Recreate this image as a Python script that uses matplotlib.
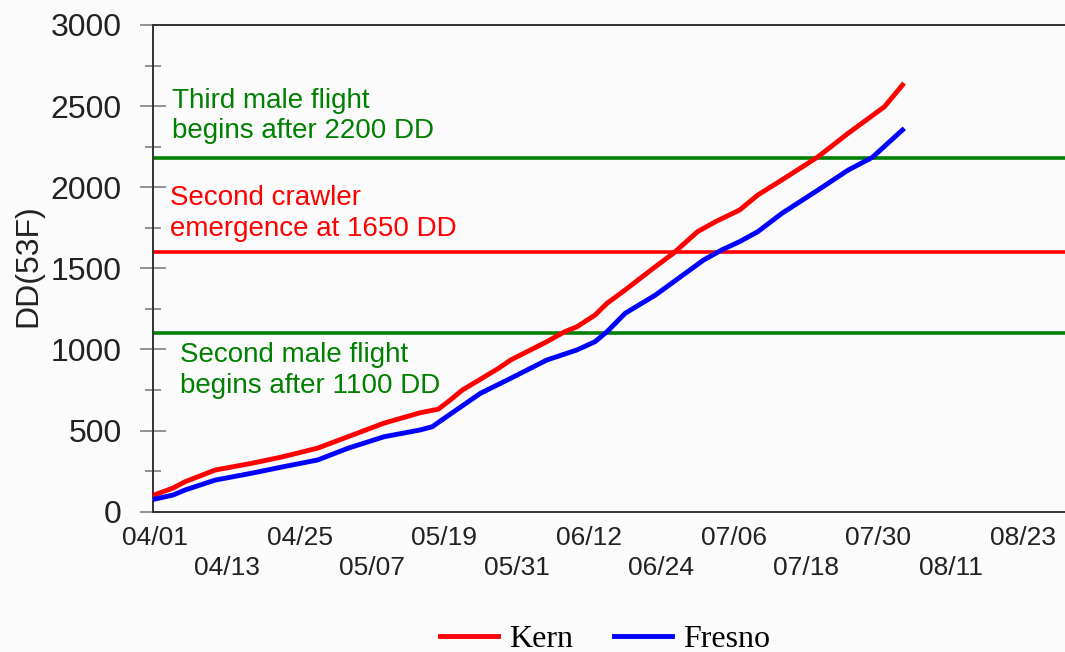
import numpy as np
import matplotlib.pyplot as plt

# dias desde 04/01 e graus-dia acumulados
dias_kern = [0, 3, 5, 10, 16, 21, 27, 32, 38, 44, 47, 49, 51, 57, 59, 65, 68, 70, 73,
             75, 78, 83, 86, 90, 93, 97, 100, 104, 110, 115, 121, 124]
kern = [105, 146, 185, 257, 298, 337, 392, 462, 546, 610, 632, 689, 750, 884, 935,
        1048, 1110, 1140, 1212, 1285, 1367, 1510, 1593, 1726, 1788, 1860, 1952, 2045,
        2188, 2333, 2496, 2630]

dias_fresno = [0, 3, 5, 10, 16, 21, 27, 32, 38, 44, 46, 48, 54, 59, 65, 70, 73, 75,
               78, 83, 88, 91, 94, 97, 100, 104, 110, 115, 119, 124]
fresno = [78, 103, 134, 195, 237, 275, 319, 391, 462, 504, 524, 576, 730, 822, 935,
          997, 1048, 1110, 1223, 1335, 1470, 1551, 1613, 1665, 1726, 1839, 1983, 2106,
          2184, 2353]

# limiares
limiar_3voo = 2180
limiar_rastejante = 1600
limiar_2voo = 1100

rotulos_x = ['04/01', '04/13', '04/25', '05/07', '05/19', '05/31', '06/12',
             '06/24', '07/06', '07/18', '07/30', '08/11', '08/23']
ticks_x = np.arange(len(rotulos_x)) * 12

verde = '#008000'
vermelho = '#ff0000'
azul = '#0000ff'
fundo = '#fbfbfb'

fig = plt.figure(figsize=(10.65, 6.52), dpi=100, facecolor=fundo)
ax = fig.add_axes([153 / 1065, 1 - 511.7 / 652, 1 - 153 / 1065, (511.7 - 25) / 652])
ax.set_facecolor(fundo)

ax.axhline(limiar_3voo, color=verde, lw=2.6, zorder=2)
ax.axhline(limiar_rastejante, color=vermelho, lw=2.6, zorder=2)
ax.axhline(limiar_2voo, color=verde, lw=2.6, zorder=2)

ax.plot(dias_kern, kern, color=vermelho, lw=3.5, zorder=3, label='Kern')
ax.plot(dias_fresno, fresno, color=azul, lw=3.5, zorder=3, label='Fresno')

ax.set_xlim(-0.33, 150.96)
ax.set_ylim(0, 3000)

# eixo y
ax.set_yticks(np.arange(0, 3001, 500))
ax.set_yticks(np.arange(250, 3000, 500), minor=True)
ax.tick_params(axis='y', which='major', direction='inout', length=19, width=1.3,
               color='#888888', pad=13, labelsize=23, labelcolor='#222222')
ax.tick_params(axis='y', which='minor', direction='inout', length=11, width=1.3,
               color='#888888')
for lab in ax.get_yticklabels():
    lab.set_fontfamily('Liberation Sans')

# eixo x: rótulos em duas linhas alternadas
ax.set_xticks(ticks_x[::2], rotulos_x[::2])
ax.set_xticks(ticks_x[1::2], rotulos_x[1::2], minor=True)
ax.tick_params(axis='x', which='major', length=0, pad=10, labelsize=19, labelcolor='#222222')
ax.tick_params(axis='x', which='minor', length=0, pad=32, labelsize=19, labelcolor='#222222')
for lab in ax.get_xticklabels() + ax.get_xticklabels(minor=True):
    lab.set_fontfamily('Liberation Sans')

for s in ['left', 'top', 'bottom']:
    ax.spines[s].set_color('#333333')
    ax.spines[s].set_linewidth(1.4)
ax.spines['right'].set_visible(False)

fig.text(28 / 1065, 1 - 266 / 652, 'DD(53F)', rotation=90, ha='center', va='center',
         fontsize=23, family='Liberation Sans', color='#222222')

# anotações (posição em pixels da figura)
def nota(xpx, ypx, txt, cor):
    fig.text(xpx / 1065, 1 - ypx / 652, txt, ha='left', va='baseline',
             fontsize=20, family='Liberation Sans', color=cor)

nota(172, 108, 'Third male flight', verde)
nota(172, 138, 'begins after 2200 DD', verde)
nota(170, 205, 'Second crawler', vermelho)
nota(170, 236, 'emergence at 1650 DD', vermelho)
nota(180, 362, 'Second male flight', verde)
nota(180, 393, 'begins after 1100 DD', verde)

fig.legend(loc='center', bbox_to_anchor=(605 / 1065, 1 - 639 / 652), ncol=2,
           frameon=False, handlelength=1.8, handletextpad=0.35, columnspacing=1.3,
           prop={'family': 'Liberation Serif', 'size': 23})

fig.savefig('out.png', dpi=100, facecolor=fundo)
